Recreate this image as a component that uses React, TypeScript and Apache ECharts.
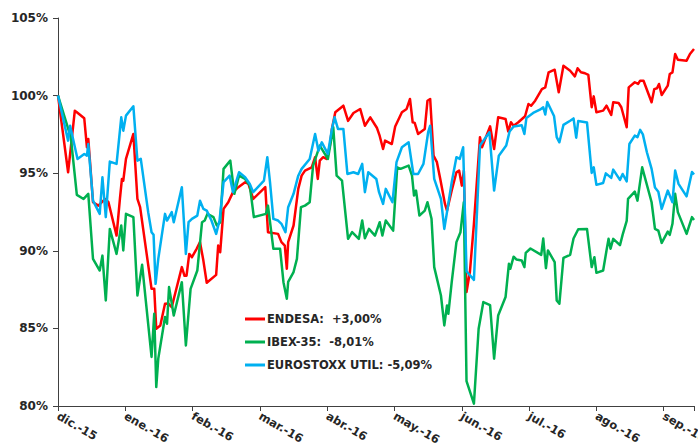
import React, { useEffect, useRef } from "react";
import * as echarts from "echarts";

// x = position in months from the start of dic.-15, y = value in % (base 100)
const months = ["dic.-15", "ene.-16", "feb.-16", "mar.-16", "abr.-16", "may.-16", "jun.-16", "jul.-16", "ago.-16", "sep.-16"];
const seriesNames = ["ENDESA", "IBEX-35", "EUROSTOXX UTIL"];
const legendLabels = ["ENDESA:  +3,00%", "IBEX-35:  -8,01%", "EUROSTOXX UTIL: -5,09%"];
const seriesColors = ["#FF0000", "#00B050", "#00B0F0"];

const endesa: [number, number][] = [
  [0, 100.0], [0.15, 95.06], [0.25, 99.03], [0.28, 98.93], [0.39, 98.54], [0.43, 96.67], [0.45, 97.21], [0.48, 95.49], [0.52, 93.13], [0.6, 92.91], [0.7, 93.34], [0.75, 93.13], [0.87, 90.98], [0.92, 93.34], [0.95, 94.63], [0.97, 94.52], [1.01, 95.92], [1.12, 97.53], [1.18, 93.34], [1.22, 92.81], [1.39, 87.55], [1.43, 87.55], [1.46, 84.98], [1.52, 85.19], [1.59, 86.59], [1.64, 86.6], [1.69, 86.37], [1.74, 87.23], [1.84, 88.95], [1.88, 88.39], [1.91, 88.4], [1.95, 89.8], [1.99, 89.59], [2.06, 90.13], [2.11, 90.56], [2.16, 89.37], [2.21, 87.94], [2.35, 88.45], [2.38, 90.34], [2.41, 89.91], [2.46, 92.7], [2.53, 93.13], [2.6, 93.78], [2.68, 94.1], [2.78, 94.42], [2.83, 94.31], [2.9, 93.34], [3.08, 94.1], [3.12, 91.2], [3.27, 91.09], [3.32, 90.56], [3.37, 90.34], [3.4, 88.84], [3.42, 90.56], [3.5, 91.63], [3.57, 93.99], [3.62, 94.84], [3.67, 95.17], [3.77, 95.38], [3.82, 96.03], [3.86, 94.63], [3.89, 95.81], [3.94, 96.03], [3.99, 95.92], [4.04, 96.78], [4.07, 97.85], [4.12, 98.93], [4.24, 99.35], [4.31, 98.37], [4.39, 98.88], [4.49, 99.14], [4.56, 98.06], [4.64, 98.6], [4.74, 97.91], [4.78, 97.4], [4.83, 96.56], [4.86, 97.1], [4.96, 96.88], [5.01, 98.01], [5.11, 98.93], [5.18, 99.14], [5.23, 99.78], [5.27, 98.28], [5.3, 98.24], [5.35, 97.53], [5.45, 97.85], [5.49, 99.67], [5.53, 99.78], [5.58, 96.13], [5.63, 95.71], [5.68, 94.63], [5.75, 93.02], [5.78, 92.59], [5.85, 93.88], [5.92, 95.06], [5.96, 95.17], [6.0, 94.2], [6.03, 95.15], [6.07, 87.34], [6.12, 88.63], [6.18, 91.74], [6.27, 97.32], [6.3, 96.67], [6.42, 98.02], [6.48, 96.56], [6.54, 98.6], [6.65, 98.49], [6.69, 97.68], [6.73, 98.28], [6.77, 98.06], [6.84, 98.28], [6.94, 98.67], [6.99, 99.46], [7.03, 99.35], [7.09, 99.67], [7.19, 100.42], [7.24, 100.53], [7.29, 101.5], [7.38, 101.67], [7.44, 100.21], [7.51, 101.92], [7.61, 101.6], [7.68, 101.24], [7.72, 101.76], [7.77, 101.5], [7.83, 101.44], [7.88, 101.33], [7.93, 99.25], [7.96, 99.95], [8.0, 98.93], [8.1, 99.03], [8.15, 99.35], [8.22, 98.75], [8.25, 99.57], [8.33, 99.52], [8.37, 99.25], [8.45, 97.96], [8.48, 100.53], [8.57, 100.86], [8.62, 100.75], [8.65, 100.96], [8.7, 100.96], [8.82, 99.57], [8.86, 100.42], [8.9, 100.47], [8.93, 100.75], [8.97, 100.04], [9.06, 100.64], [9.09, 101.39], [9.13, 101.5], [9.17, 102.68], [9.21, 102.31], [9.34, 102.25], [9.39, 102.68], [9.45, 103.0],
];

const ibex: [number, number][] = [
  [0, 100.0], [0.19, 97.32], [0.28, 93.6], [0.38, 93.34], [0.45, 93.67], [0.52, 89.48], [0.62, 88.73], [0.66, 89.69], [0.71, 86.8], [0.77, 91.41], [0.87, 89.8], [0.94, 91.63], [0.97, 90.02], [1.01, 92.38], [1.12, 92.17], [1.18, 87.12], [1.25, 89.1], [1.39, 83.16], [1.43, 85.94], [1.46, 81.22], [1.49, 83.05], [1.59, 85.73], [1.62, 85.3], [1.65, 87.66], [1.72, 85.83], [1.84, 87.98], [1.9, 83.9], [1.97, 87.55], [2.07, 88.73], [2.14, 91.84], [2.18, 91.95], [2.22, 92.38], [2.31, 92.17], [2.36, 91.63], [2.41, 91.84], [2.46, 95.28], [2.56, 95.81], [2.62, 93.67], [2.69, 94.84], [2.78, 94.63], [2.85, 94.2], [2.91, 92.17], [3.09, 92.38], [3.12, 92.91], [3.2, 90.13], [3.3, 90.13], [3.35, 87.98], [3.4, 86.91], [3.42, 88.0], [3.5, 88.63], [3.55, 89.48], [3.61, 92.81], [3.67, 92.91], [3.74, 93.13], [3.79, 95.49], [3.89, 96.78], [4.01, 95.92], [4.07, 97.42], [4.09, 97.96], [4.14, 94.84], [4.22, 94.52], [4.31, 90.77], [4.37, 91.2], [4.47, 90.77], [4.52, 91.95], [4.56, 90.81], [4.62, 91.41], [4.71, 90.98], [4.78, 91.84], [4.82, 90.98], [4.87, 91.95], [4.98, 91.3], [5.04, 95.38], [5.09, 95.28], [5.21, 95.49], [5.26, 94.84], [5.29, 93.56], [5.32, 93.88], [5.37, 92.27], [5.45, 92.59], [5.49, 93.13], [5.55, 92.06], [5.59, 88.95], [5.69, 87.12], [5.74, 85.19], [5.78, 86.48], [5.8, 85.94], [5.85, 87.98], [5.92, 90.56], [5.98, 91.2], [6.03, 93.13], [6.07, 81.6], [6.18, 80.15], [6.25, 84.98], [6.32, 86.7], [6.42, 86.5], [6.48, 83.05], [6.54, 85.83], [6.65, 87.02], [6.7, 89.16], [6.72, 88.84], [6.77, 89.62], [6.81, 89.44], [6.89, 89.37], [6.93, 88.95], [6.95, 89.87], [7.02, 90.15], [7.18, 89.74], [7.21, 90.79], [7.25, 88.88], [7.28, 90.02], [7.38, 89.27], [7.41, 86.8], [7.45, 86.59], [7.51, 89.55], [7.61, 89.74], [7.66, 90.79], [7.73, 91.39], [7.86, 91.41], [7.93, 88.95], [7.97, 89.59], [8.0, 88.58], [8.1, 88.73], [8.15, 90.02], [8.18, 90.77], [8.21, 90.13], [8.25, 90.77], [8.35, 90.36], [8.39, 91.04], [8.45, 91.93], [8.47, 93.34], [8.57, 93.81], [8.61, 93.23], [8.68, 95.38], [8.82, 93.13], [8.87, 91.41], [8.92, 91.3], [8.97, 90.51], [9.06, 91.24], [9.09, 91.03], [9.13, 91.74], [9.17, 93.67], [9.21, 92.49], [9.34, 91.09], [9.42, 92.17], [9.45, 91.99],
];

const eurostoxx: [number, number][] = [
  [0, 100.0], [0.15, 97.1], [0.18, 98.06], [0.29, 95.92], [0.39, 96.24], [0.43, 96.13], [0.45, 96.88], [0.52, 93.23], [0.62, 92.38], [0.66, 94.74], [0.71, 92.17], [0.77, 95.75], [0.87, 95.6], [0.94, 98.6], [0.97, 97.74], [1.01, 98.71], [1.12, 99.31], [1.18, 95.81], [1.23, 95.92], [1.34, 92.49], [1.39, 91.2], [1.42, 91.03], [1.45, 87.87], [1.49, 89.48], [1.59, 92.38], [1.62, 91.95], [1.69, 92.49], [1.72, 91.84], [1.84, 94.1], [1.9, 89.8], [1.94, 91.84], [1.99, 92.06], [2.07, 92.27], [2.11, 93.23], [2.16, 92.7], [2.21, 92.59], [2.28, 91.95], [2.35, 91.09], [2.4, 91.95], [2.46, 94.42], [2.55, 94.84], [2.6, 93.78], [2.69, 95.06], [2.78, 94.74], [2.85, 94.31], [2.9, 93.78], [3.06, 94.52], [3.11, 96.03], [3.15, 94.42], [3.2, 92.06], [3.27, 91.95], [3.32, 91.74], [3.38, 91.2], [3.42, 92.81], [3.5, 93.67], [3.57, 94.84], [3.62, 95.28], [3.74, 95.92], [3.82, 97.53], [3.87, 96.45], [3.92, 96.99], [4.01, 96.24], [4.07, 97.85], [4.11, 98.6], [4.16, 97.85], [4.24, 97.85], [4.3, 94.95], [4.39, 95.06], [4.46, 94.95], [4.52, 95.6], [4.56, 93.78], [4.61, 95.06], [4.73, 94.63], [4.77, 93.78], [4.83, 93.02], [4.87, 93.99], [4.97, 93.13], [5.03, 95.71], [5.11, 96.67], [5.21, 96.99], [5.28, 94.95], [5.35, 94.95], [5.43, 95.6], [5.5, 97.64], [5.53, 98.06], [5.59, 94.63], [5.69, 93.34], [5.74, 91.41], [5.78, 92.49], [5.85, 94.42], [5.92, 96.03], [5.97, 95.92], [6.02, 96.67], [6.07, 88.68], [6.18, 88.13], [6.27, 96.78], [6.41, 97.64], [6.48, 93.88], [6.55, 96.13], [6.66, 96.78], [6.71, 97.69], [6.77, 98.01], [6.89, 98.09], [6.93, 97.53], [6.96, 98.56], [7.06, 98.88], [7.16, 99.09], [7.21, 99.25], [7.24, 98.78], [7.27, 99.59], [7.37, 98.69], [7.41, 97.32], [7.45, 96.99], [7.51, 98.11], [7.61, 98.38], [7.66, 98.53], [7.7, 97.29], [7.73, 98.37], [7.86, 98.27], [7.93, 95.02], [7.96, 95.38], [8.0, 94.25], [8.1, 94.37], [8.14, 94.99], [8.22, 94.7], [8.25, 95.23], [8.35, 94.57], [8.39, 94.95], [8.45, 94.47], [8.49, 96.88], [8.57, 97.42], [8.61, 97.32], [8.65, 97.79], [8.69, 97.5], [8.75, 96.35], [8.82, 95.28], [8.87, 94.08], [8.92, 93.81], [8.97, 92.7], [9.06, 93.88], [9.13, 93.13], [9.17, 95.17], [9.22, 94.31], [9.34, 93.51], [9.42, 95.08], [9.45, 94.91],
];

const yTicks = [80, 85, 90, 95, 100, 105];

export default function App() {
  const ref = useRef<HTMLDivElement>(null);

  useEffect(() => {
    document.body.style.margin = "0";
    if (!ref.current) return;
    const chart = echarts.init(ref.current, null, { renderer: "svg" });
    const font = "DejaVu Sans";
    const textColor = "#262626";
    const axisColor = "#404040";
    const allData = [endesa, ibex, eurostoxx];

    chart.setOption({
      animation: false,
      backgroundColor: "#ffffff",
      grid: { left: 58, right: 4, top: 18, bottom: 41, containLabel: false, outerBoundsMode: "none" },
      xAxis: {
        type: "value",
        min: 0,
        max: 9.45,
        interval: 1,
        splitLine: { show: false },
        axisLine: { show: true, onZero: false, lineStyle: { color: axisColor, width: 1 } },
        axisTick: { show: true, length: 5, lineStyle: { color: axisColor } },
        axisLabel: {
          rotate: -30,
          margin: 9,
          fontFamily: font,
          fontWeight: "bold",
          fontSize: 11.5,
          lineHeight: 12,
          color: textColor,
          formatter: (v: number) => {
            const i = Math.round(v);
            return Math.abs(v - i) < 1e-6 && months[i] ? months[i] : "";
          },
        },
      },
      yAxis: {
        type: "value",
        min: yTicks[0],
        max: yTicks[yTicks.length - 1],
        interval: 5,
        splitLine: { show: false },
        axisLine: { show: true, lineStyle: { color: axisColor, width: 1 } },
        axisTick: { show: true, length: 5, lineStyle: { color: axisColor } },
        axisLabel: {
          margin: 10,
          fontFamily: font,
          fontWeight: "bold",
          fontSize: 12,
          color: textColor,
          formatter: "{value}%",
        },
      },
      legend: {
        orient: "vertical",
        left: 240,
        top: 307,
        icon: "rect",
        itemWidth: 20,
        itemHeight: 3,
        itemGap: 9,
        data: seriesNames,
        formatter: (name: string) => legendLabels[seriesNames.indexOf(name)],
        textStyle: {
          fontFamily: font,
          fontWeight: "bold",
          fontSize: 11.5,
          lineHeight: 14,
          color: textColor,
          padding: [0, 0, 0, -3],
        },
      },
      series: seriesNames.map((name, i) => ({
        name,
        type: "line",
        data: allData[i],
        symbol: "none",
        showSymbol: false,
        color: seriesColors[i],
        itemStyle: { color: seriesColors[i] },
        lineStyle: { color: seriesColors[i], width: 2.5, join: "round" },
        z: 2 + i,
      })),
    });

    return () => chart.dispose();
  }, []);

  return <div ref={ref} style={{ width: 698, height: 447 }} />;
}
